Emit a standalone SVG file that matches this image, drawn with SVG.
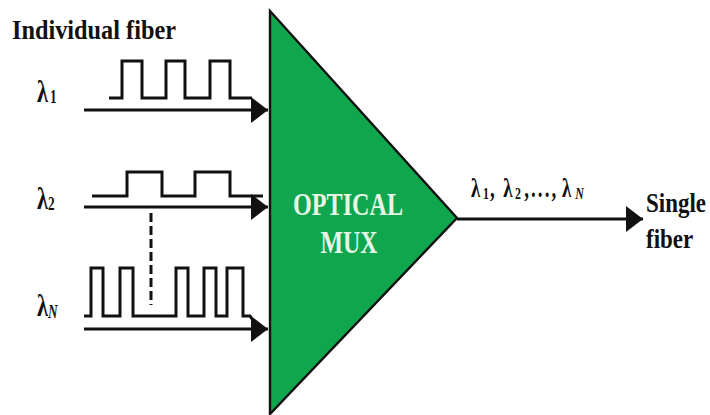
<svg xmlns="http://www.w3.org/2000/svg" width="710" height="415" viewBox="0 0 710 415">
<style>
text{font-family:"Liberation Serif",serif;font-weight:bold;fill:#111}
.lam{font-size:32px}
.lam2{font-size:27px}
.sub{font-size:19px}
.sub2{font-size:17px}
.it{font-style:italic}
.big{font-size:28px}
.mux{font-size:32px;fill:#e6f5e6;text-anchor:middle}
.wave{fill:none;stroke:#111;stroke-width:3}
.conn{fill:none;stroke:#111;stroke-width:3.2}
</style>
<defs>
<marker id="ah" markerUnits="userSpaceOnUse" markerWidth="18" markerHeight="28" refX="17" refY="13" orient="auto"><path d="M0 0L17 13L0 26Z" fill="#111"/></marker>
</defs>
<rect width="710" height="415" fill="#fff"/>
<g id="mux">
<path d="M270 11L457 218L270 414Z" fill="#10a64d" stroke="#111" stroke-width="2.4"/>
<text class="mux" x="348" y="215" textLength="110" lengthAdjust="spacingAndGlyphs">OPTICAL</text>
<text class="mux" x="349" y="253" textLength="57" lengthAdjust="spacingAndGlyphs">MUX</text>
</g>
<g id="connectors">
<path class="conn" marker-end="url(#ah)" d="M84 110H268"/>
<path class="conn" marker-end="url(#ah)" d="M84 207H268"/>
<path class="conn" marker-end="url(#ah)" d="M84 329H268"/>
<path class="conn" marker-end="url(#ah)" d="M457 219H643"/>
<path d="M151 213V305" fill="none" stroke="#111" stroke-width="3" stroke-dasharray="9 4"/>
</g>
<g id="wave1"><path class="wave" d="M109 98H122V61H142V98H166V61H185V98H210V61H230V98H252"/></g>
<g id="wave2"><path class="wave" d="M92 196H127V172H162V196H195V172H230V196H263"/></g>
<g id="waveN"><path class="wave" d="M84 316H91V268H103V316H120V268H133V316H176V268H188V316H204V268H216V316H227V268H243V316H250L252 319"/></g>
<g id="label-title"><text class="big" x="12" y="39" textLength="164" lengthAdjust="spacingAndGlyphs">Individual fiber</text></g>
<g id="label-l1"><text class="lam" transform="translate(37 102) scale(.7 1)">λ<tspan class="sub" dx="3" dy="1">1</tspan></text></g>
<g id="label-l2"><text class="lam" transform="translate(37 209) scale(.7 1)">λ<tspan class="sub" dy="1">2</tspan></text></g>
<g id="label-ln"><text class="lam" transform="translate(37 316) scale(.7 1)">λ<tspan class="sub it" dy="2">N</tspan></text></g>
<g id="label-all"><text class="lam2" transform="translate(471 197) scale(.7 1)">λ<tspan class="sub2" x="17" dy="2">1</tspan><tspan dy="-2" x="27">,</tspan><tspan x="46">λ</tspan><tspan class="sub2" x="63" dy="2">2</tspan><tspan x="76" dy="-2" letter-spacing="3">,...,</tspan><tspan x="130">λ</tspan><tspan class="sub2 it" x="149" dy="2">N</tspan></text></g>
<g id="label-single"><text class="big" transform="translate(646 212) scale(.82 1)">Single</text><text class="big" transform="translate(646 248) scale(.82 1)">fiber</text></g>
</svg>
